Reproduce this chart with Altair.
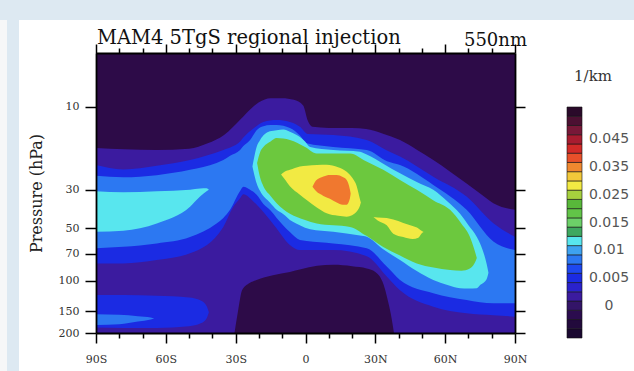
import altair as alt
import pandas as pd

# ---------------- values ----------------
LAT_TICKS = [-90, -60, -30, 0, 30, 60, 90]
LAT_LABELS = ["90S", "60S", "30S", "0", "30N", "60N", "90N"]
LAT_MINOR = [-80, -70, -50, -40, -20, -10, 10, 20, 40, 50, 70, 80]
P_TICKS = [10, 30, 50, 70, 100, 150, 200]

# contour bands: latitude, upper edge (hPa), lower edge (hPa)
BG_LAT = [-90, 90]
BG_TOP = [4.89, 4.89]
BG_BOT = [200, 200]

L1_LAT = [-90, -78, -64, -50, -42, -35, -28, -24, -20, -15, -10, -5, -1, 1, 3, 10, 20, 26, 33, 40.6, 47.8, 54.9, 62, 69.2, 75, 80.7, 90]
L1_TOP = [17.2, 17.5, 17.7, 17.4, 16.2, 14.5, 11.8, 10.4, 9.4, 8.9, 8.9, 9.1, 9.8, 12.0, 13.0, 13.2, 13.2, 13.4, 14.2, 15.5, 17.6, 20.2, 23.5, 27.6, 31.5, 35.8, 39.1]
L1_BOT = [200, 200, 200, 200, 200, 200, 200, 200, 200, 200, 200, 200, 200, 200, 200, 200, 200, 200, 200, 200, 200, 200, 200, 200, 200, 200, 200]

L0B_LAT = [-30.5, -29, -27.2, -24, -21, -14, -6.7, -2, 5, 12, 20, 26.3, 30, 32, 34, 35.6, 37, 38]
L0B_TOP = [200, 150, 113, 103, 99, 93, 89, 86, 82, 81, 82.5, 85, 89, 95, 110, 134, 165, 200]
L0B_BOT = [200, 200, 200, 200, 200, 200, 200, 200, 200, 200, 200, 200, 200, 200, 200, 200, 200, 200]

L2_LAT = [-90, -78.3, -63.9, -49.6, -35.3, -31, -28.1, -26.7, -22.4, -18.1, -12.4, -6.7, -2.4, 1, 11.9, 26.3, 35, 40.6, 54.9, 69.2, 80.7, 90]
L2_TOP = [21.6, 22.9, 21.8, 20.2, 17.7, 16.8, 15.8, 15.0, 13.3, 12.2, 11.9, 12.2, 13.0, 14.3, 14.5, 15.5, 17.8, 19.3, 25.2, 32.8, 46.7, 55.9]
L2_BOT = [79.5, 79.5, 76, 69.6, 49, 37.5, 33.5, 31.8, 35, 40.2, 50, 62.3, 66.6, 66.6, 66.6, 72.3, 94.8, 113.4, 141, 154, 158, 161]

L2B_LAT = [-90, -78, -64, -50, -45, -42.5, -41.5]
L2B_TOP = [121, 121, 122, 125, 130, 140, 152]
L2B_BOT = [186, 187, 187, 183, 176, 165, 152]

L3_LAT = [-90, -78.3, -63.9, -49.6, -38.2, -35.3, -32.4, -28.1, -26.7, -23.8, -21, -18.1, -15, -12.4, -6.7, -2.4, 0.5, 11.9, 26.3, 35, 40.6, 54.9, 69.2, 80.7, 90]
L3_TOP = [24.9, 25.4, 24.7, 23.0, 21.0, 20.2, 19.1, 17.7, 16.8, 15.5, 13.6, 12.9, 12.7, 12.7, 13.2, 14.6, 16.2, 17.0, 17.7, 20.5, 21.6, 28.1, 39.1, 59.5, 66.6]
L3_BOT = [65, 63.8, 61, 56, 46.8, 43.5, 39.1, 30.5, 28.8, 30, 32, 36.2, 39.5, 43.5, 52.5, 58.3, 59, 61, 65.1, 83.2, 99, 118, 129, 135, 135]

L3B_LAT = [-90, -80, -72, -66.5, -65]
L3B_TOP = [156, 157, 160, 163, 165]
L3B_BOT = [180, 178, 172, 167, 165]

L4A_LAT = [-90, -78.3, -63.9, -49.6, -45.3, -42.5, -41.5]
L4A_TOP = [30.6, 31, 30.6, 30, 29.5, 29.4, 30]
L4A_BOT = [52.3, 51.5, 46.8, 37.5, 32.8, 30.6, 30]

L4B_LAT = [-22.8, -21, -19.5, -15.3, -12.4, -9.5, -6.7, -3.8, -0.2, 2, 11.9, 23.4, 26.3, 33.4, 40.6, 47.8, 54.9, 61, 66.4, 70, 73.6, 75, 77.8, 78.6]
L4B_TOP = [22, 17.0, 15.5, 13.8, 13.6, 13.5, 13.9, 14.5, 15.8, 17.0, 17.7, 18.1, 18.8, 21.2, 24.1, 27, 30.0, 35, 41.2, 48, 56, 61, 80, 90]
L4B_BOT = [22, 27.5, 30.5, 35.5, 39.1, 41.5, 44.7, 47, 49.5, 50.5, 52.3, 55, 55.9, 66, 76, 88, 99, 106, 110.6, 111, 110.6, 106, 98, 90]

L5_LAT = [-20.8, -19.5, -18.1, -15, -12.4, -6.7, -0.2, 4.8, 12, 19.1, 26, 33.4, 40.6, 47.8, 55, 62.1, 67, 70.6, 72.5, 73.6]
L5_TOP = [21, 18.2, 17.0, 15.8, 15.1, 15.5, 17.0, 18.5, 18.5, 18.5, 20.5, 23.0, 26.3, 30.0, 34.5, 39.1, 47, 55.9, 66, 74]
L5_BOT = [21, 25.5, 28.6, 32.5, 35.8, 41.2, 44.7, 46.8, 48, 49.0, 55, 63.9, 71.5, 79.6, 84, 86.8, 87.5, 85, 80, 74]

L6A_LAT = [-10.5, -9, -6.7, -2.4, 0.5, 5, 9.1, 14, 17.7, 20, 22, 23.4, 23.8]
L6A_TOP = [24.5, 23.6, 23.0, 22.0, 21.8, 21.6, 21.5, 22.2, 23.6, 25.5, 28.6, 34, 35.5]
L6A_BOT = [24.5, 26.0, 28.6, 32, 34.3, 38, 40.9, 42.3, 42.8, 42, 40, 37, 35.5]

L6B_LAT = [29.2, 31, 34.9, 37.7, 42, 46, 48.5, 50.2, 50.8]
L6B_TOP = [43, 43.2, 43.5, 44.5, 46.5, 48.5, 50, 52, 52.5]
L6B_BOT = [43, 45, 48, 53.6, 56, 57.5, 56.5, 53, 52.5]

L7_LAT = [3, 4.5, 7.7, 10.5, 13.4, 16, 17.7, 19.1, 19.4]
L7_TOP = [28.8, 26.5, 25.1, 24.6, 24.6, 25.3, 26.3, 30, 31.5]
L7_BOT = [28.8, 30.5, 32.5, 33.8, 35.5, 36.5, 36.5, 33.5, 31.5]

CBAR_LABELS = ["0", "0.005", "0.01", "0.015", "0.025", "0.035", "0.045"]
CBAR_COLORS = ["#1a0830", "#220a3c", "#2b0c4e", "#331468", "#3b1b9f", "#2a22cc", "#1b2be3",
               "#1e48f0", "#2c78f2", "#3ea2f0", "#58e6ee", "#3ea860", "#6cd068", "#62c448",
               "#58b83a", "#a6d03e", "#f2ea43", "#f2c83a", "#f0882f", "#e8502a", "#d22a28",
               "#a81c30", "#781838", "#4c1032", "#2a0a2a"]

# ---------------- styling ----------------
W, H = 419, 280
SERIF = "DejaVu Serif"
C_BG = "#2d0b48"
C1, C2, C3, C4, C5, C6, C7 = "#3b1b9f", "#1b2be3", "#2c78f2", "#58e6ee", "#6cc83e", "#f2ea43", "#f0782f"

XS = alt.Scale(domain=[-90, 90], nice=False, zero=False)
YS = alt.Scale(type="log", domain=[4.89, 200], reverse=True, nice=False)

lab_expr = "''"
for v, t in reversed(list(zip(LAT_TICKS, LAT_LABELS))):
    lab_expr = f"datum.value == {v} ? '{t}' : ({lab_expr})"

common = dict(grid=False, title=None, zindex=1, tickColor="black", domainColor="black",
              domainWidth=1.8, tickWidth=1.5)
ax_bottom = alt.Axis(orient="bottom", values=LAT_TICKS, labelExpr=lab_expr, tickSize=10,
                     labelFont=SERIF, labelFontSize=11, labelColor="#333", labelPadding=10,
                     labelFlush=False, labelOverlap=False, **common)
ax_bottom_minor = alt.Axis(orient="bottom", values=LAT_MINOR, tickSize=5, labels=False,
                           domain=False, **common)
ax_top = alt.Axis(orient="top", values=LAT_TICKS, tickSize=9, labels=False, **common)
ax_top_minor = alt.Axis(orient="top", values=LAT_MINOR, tickSize=5, labels=False,
                        domain=False, **common)
common_y = dict(common)
common_y.pop("title")
ax_left = alt.Axis(orient="left", values=P_TICKS, tickSize=11, labelFont=SERIF,
                   labelFontSize=11, labelColor="#333", labelPadding=6, format="d",
                   labelOverlap=False, title="Pressure (hPa)", titleFont=SERIF,
                   titleFontSize=16, titleFontWeight="normal", titleColor="#222",
                   titlePadding=14, **common_y)
ax_right = alt.Axis(orient="right", values=P_TICKS, tickSize=10, labels=False, **common)


def band(lat, top, bot, color, xaxis=None, yaxis=None):
    df = pd.DataFrame({"lat": lat, "top": top, "bot": bot})
    return alt.Chart(df).mark_area(interpolate="monotone", color=color, strokeWidth=0).encode(
        x=alt.X("lat:Q", scale=XS, axis=xaxis),
        y=alt.Y("top:Q", scale=YS, axis=yaxis),
        y2="bot:Q",
    )


one = alt.Data(values=[{}])

# page decoration: white slide panel on the light-blue frame
panel = alt.Chart(one).mark_rect(color="white").encode(
    x=alt.value(-77), x2=alt.value(538), y=alt.value(-33), y2=alt.value(318))
strip = alt.Chart(one).mark_rect(color="#f6f7f8").encode(
    x=alt.value(-96), x2=alt.value(-89), y=alt.value(-33), y2=alt.value(318))

bands = [
    band(BG_LAT, BG_TOP, BG_BOT, C_BG, ax_bottom, ax_left),
    band(L1_LAT, L1_TOP, L1_BOT, C1, ax_bottom_minor, ax_right),
    band(L0B_LAT, L0B_TOP, L0B_BOT, C_BG, ax_top),
    band(L2_LAT, L2_TOP, L2_BOT, C2, ax_top_minor),
    band(L2B_LAT, L2B_TOP, L2B_BOT, C2),
    band(L3_LAT, L3_TOP, L3_BOT, C3),
    band(L3B_LAT, L3B_TOP, L3B_BOT, C3),
    band(L4A_LAT, L4A_TOP, L4A_BOT, C4),
    band(L4B_LAT, L4B_TOP, L4B_BOT, C4),
    band(L5_LAT, L5_TOP, L5_BOT, C5),
    band(L6A_LAT, L6A_TOP, L6A_BOT, C6),
    band(L6B_LAT, L6B_TOP, L6B_BOT, C6),
    band(L7_LAT, L7_TOP, L7_BOT, C7),
]

title = alt.Chart(one).mark_text(align="left", baseline="alphabetic", font=SERIF,
                                 fontSize=19.5, color="#111").encode(
    x=alt.value(1), y=alt.value(-9), text=alt.value("MAM4 5TgS regional injection"))
wl = alt.Chart(one).mark_text(align="right", baseline="alphabetic", font=SERIF,
                              fontSize=18, color="#111").encode(
    x=alt.value(431), y=alt.value(-7), text=alt.value("550nm"))
unit = alt.Chart(one).mark_text(align="center", baseline="alphabetic", font=SERIF,
                                fontSize=15, color="#333").encode(
    x=alt.value(497), y=alt.value(28), text=alt.value("1/km"))

# colour bar
NB = len(CBAR_COLORS)
cb_df = pd.DataFrame({"lo": list(range(NB)), "hi": [i + 1 for i in range(NB)], "c": CBAR_COLORS})
CBS = alt.Scale(domain=[0, NB], range=[285, 54], nice=False, zero=False)
cbar = alt.Chart(cb_df).mark_rect(stroke="#111", strokeWidth=0.6).encode(
    x=alt.value(471), x2=alt.value(486),
    y=alt.Y("lo:Q", scale=CBS, axis=None), y2="hi:Q",
    color=alt.Color("c:N", scale=None))
lab_df = pd.DataFrame({"t": CBAR_LABELS, "pos": [3.5 + 3 * i for i in range(len(CBAR_LABELS))]})
cbar_lab = alt.Chart(lab_df).mark_text(align="center", baseline="middle", font="DejaVu Sans",
                                       fontSize=14, color="#555").encode(
    x=alt.value(513), y=alt.Y("pos:Q", scale=CBS, axis=None), text="t:N")

chart = alt.layer(panel, strip, *bands, title, wl, unit, cbar, cbar_lab).resolve_scale(
    y="independent").resolve_axis(x="independent", y="independent").properties(
    width=W, height=H, padding={"left": 0, "top": 20, "right": 0, "bottom": 0},
    background="#dde9f2").configure_view(stroke=None)

chart.save("out.html", embed_options={"renderer": "svg", "actions": False})
